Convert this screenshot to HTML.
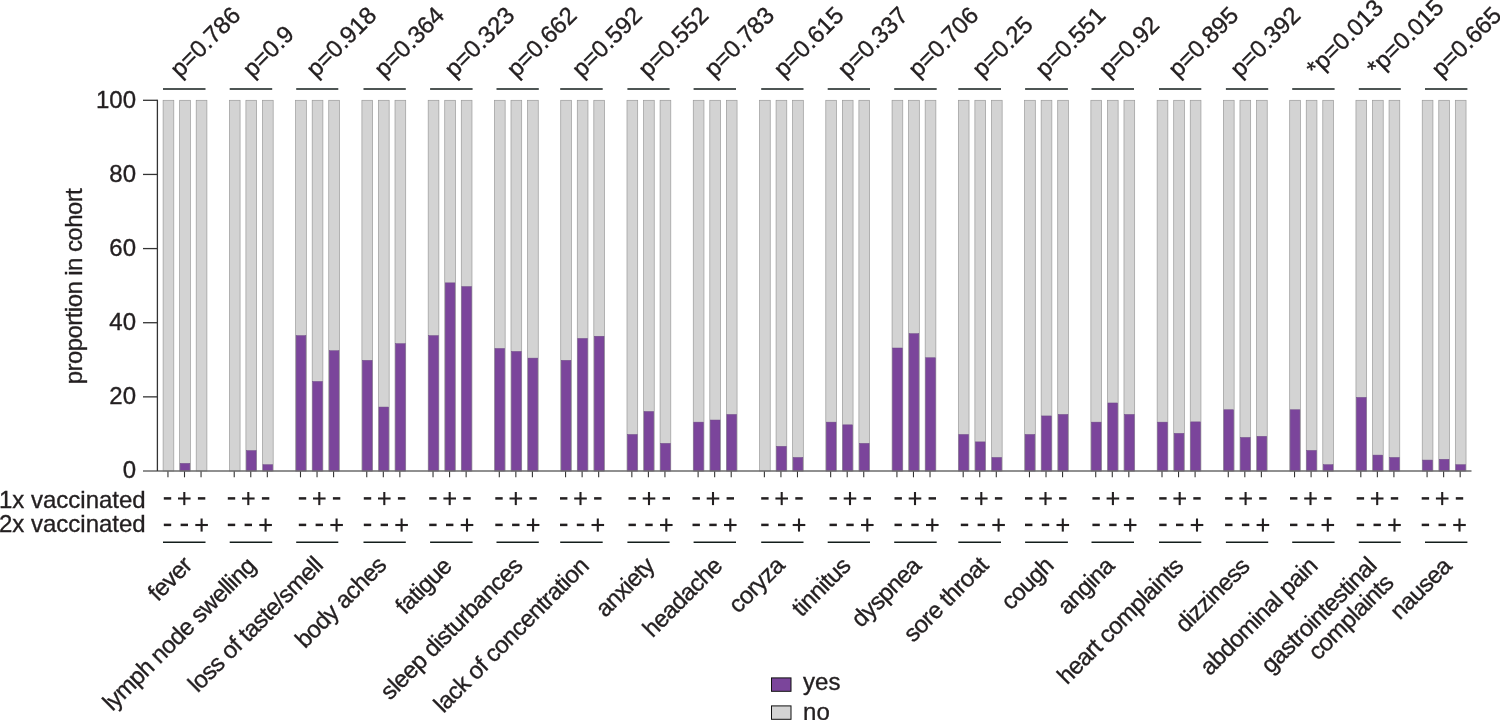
<!DOCTYPE html><html><head><meta charset="utf-8"><title>chart</title>
<style>html,body{margin:0;padding:0;background:#fff;}svg{display:block;will-change:transform;}text{font-family:"Liberation Sans",sans-serif;fill:#231F20;stroke:#231F20;stroke-width:0.35px;}</style>
</head><body>
<svg width="1500" height="720" viewBox="0 0 1500 720">
<rect width="1500" height="720" fill="#fff"/>
<rect x="163.10" y="100.30" width="10.70" height="370.70" fill="#D3D3D3" stroke="#9a9a9a" stroke-width="0.7"/>
<line x1="167.95" y1="471.00" x2="167.95" y2="477.30" stroke="#333" stroke-width="1.1"/>
<rect x="179.65" y="100.30" width="10.70" height="370.70" fill="#D3D3D3" stroke="#9a9a9a" stroke-width="0.7"/>
<rect x="180.15" y="463.39" width="9.70" height="7.61" fill="#7B459B" stroke="#6e4a86" stroke-width="0.5"/>
<line x1="184.50" y1="471.00" x2="184.50" y2="477.30" stroke="#333" stroke-width="1.1"/>
<rect x="196.20" y="100.30" width="10.70" height="370.70" fill="#D3D3D3" stroke="#9a9a9a" stroke-width="0.7"/>
<line x1="201.05" y1="471.00" x2="201.05" y2="477.30" stroke="#333" stroke-width="1.1"/>
<rect x="229.37" y="100.30" width="10.70" height="370.70" fill="#D3D3D3" stroke="#9a9a9a" stroke-width="0.7"/>
<line x1="234.22" y1="471.00" x2="234.22" y2="477.30" stroke="#333" stroke-width="1.1"/>
<rect x="245.92" y="100.30" width="10.70" height="370.70" fill="#D3D3D3" stroke="#9a9a9a" stroke-width="0.7"/>
<rect x="246.42" y="450.57" width="9.70" height="20.43" fill="#7B459B" stroke="#6e4a86" stroke-width="0.5"/>
<line x1="250.77" y1="471.00" x2="250.77" y2="477.30" stroke="#333" stroke-width="1.1"/>
<rect x="262.47" y="100.30" width="10.70" height="370.70" fill="#D3D3D3" stroke="#9a9a9a" stroke-width="0.7"/>
<rect x="262.97" y="464.69" width="9.70" height="6.31" fill="#7B459B" stroke="#6e4a86" stroke-width="0.5"/>
<line x1="267.32" y1="471.00" x2="267.32" y2="477.30" stroke="#333" stroke-width="1.1"/>
<rect x="295.64" y="100.30" width="10.70" height="370.70" fill="#D3D3D3" stroke="#9a9a9a" stroke-width="0.7"/>
<rect x="296.14" y="335.61" width="9.70" height="135.39" fill="#7B459B" stroke="#6e4a86" stroke-width="0.5"/>
<line x1="300.49" y1="471.00" x2="300.49" y2="477.30" stroke="#333" stroke-width="1.1"/>
<rect x="312.19" y="100.30" width="10.70" height="370.70" fill="#D3D3D3" stroke="#9a9a9a" stroke-width="0.7"/>
<rect x="312.69" y="381.47" width="9.70" height="89.53" fill="#7B459B" stroke="#6e4a86" stroke-width="0.5"/>
<line x1="317.04" y1="471.00" x2="317.04" y2="477.30" stroke="#333" stroke-width="1.1"/>
<rect x="328.74" y="100.30" width="10.70" height="370.70" fill="#D3D3D3" stroke="#9a9a9a" stroke-width="0.7"/>
<rect x="329.24" y="350.70" width="9.70" height="120.30" fill="#7B459B" stroke="#6e4a86" stroke-width="0.5"/>
<line x1="333.59" y1="471.00" x2="333.59" y2="477.30" stroke="#333" stroke-width="1.1"/>
<rect x="361.91" y="100.30" width="10.70" height="370.70" fill="#D3D3D3" stroke="#9a9a9a" stroke-width="0.7"/>
<rect x="362.41" y="360.34" width="9.70" height="110.66" fill="#7B459B" stroke="#6e4a86" stroke-width="0.5"/>
<line x1="366.76" y1="471.00" x2="366.76" y2="477.30" stroke="#333" stroke-width="1.1"/>
<rect x="378.46" y="100.30" width="10.70" height="370.70" fill="#D3D3D3" stroke="#9a9a9a" stroke-width="0.7"/>
<rect x="378.96" y="407.05" width="9.70" height="63.95" fill="#7B459B" stroke="#6e4a86" stroke-width="0.5"/>
<line x1="383.31" y1="471.00" x2="383.31" y2="477.30" stroke="#333" stroke-width="1.1"/>
<rect x="395.01" y="100.30" width="10.70" height="370.70" fill="#D3D3D3" stroke="#9a9a9a" stroke-width="0.7"/>
<rect x="395.51" y="343.66" width="9.70" height="127.34" fill="#7B459B" stroke="#6e4a86" stroke-width="0.5"/>
<line x1="399.86" y1="471.00" x2="399.86" y2="477.30" stroke="#333" stroke-width="1.1"/>
<rect x="428.18" y="100.30" width="10.70" height="370.70" fill="#D3D3D3" stroke="#9a9a9a" stroke-width="0.7"/>
<rect x="428.68" y="335.61" width="9.70" height="135.39" fill="#7B459B" stroke="#6e4a86" stroke-width="0.5"/>
<line x1="433.03" y1="471.00" x2="433.03" y2="477.30" stroke="#333" stroke-width="1.1"/>
<rect x="444.73" y="100.30" width="10.70" height="370.70" fill="#D3D3D3" stroke="#9a9a9a" stroke-width="0.7"/>
<rect x="445.23" y="282.86" width="9.70" height="188.14" fill="#7B459B" stroke="#6e4a86" stroke-width="0.5"/>
<line x1="449.58" y1="471.00" x2="449.58" y2="477.30" stroke="#333" stroke-width="1.1"/>
<rect x="461.28" y="100.30" width="10.70" height="370.70" fill="#D3D3D3" stroke="#9a9a9a" stroke-width="0.7"/>
<rect x="461.78" y="286.57" width="9.70" height="184.43" fill="#7B459B" stroke="#6e4a86" stroke-width="0.5"/>
<line x1="466.13" y1="471.00" x2="466.13" y2="477.30" stroke="#333" stroke-width="1.1"/>
<rect x="494.45" y="100.30" width="10.70" height="370.70" fill="#D3D3D3" stroke="#9a9a9a" stroke-width="0.7"/>
<rect x="494.95" y="348.48" width="9.70" height="122.52" fill="#7B459B" stroke="#6e4a86" stroke-width="0.5"/>
<line x1="499.30" y1="471.00" x2="499.30" y2="477.30" stroke="#333" stroke-width="1.1"/>
<rect x="511.00" y="100.30" width="10.70" height="370.70" fill="#D3D3D3" stroke="#9a9a9a" stroke-width="0.7"/>
<rect x="511.50" y="351.44" width="9.70" height="119.56" fill="#7B459B" stroke="#6e4a86" stroke-width="0.5"/>
<line x1="515.85" y1="471.00" x2="515.85" y2="477.30" stroke="#333" stroke-width="1.1"/>
<rect x="527.55" y="100.30" width="10.70" height="370.70" fill="#D3D3D3" stroke="#9a9a9a" stroke-width="0.7"/>
<rect x="528.05" y="358.12" width="9.70" height="112.88" fill="#7B459B" stroke="#6e4a86" stroke-width="0.5"/>
<line x1="532.40" y1="471.00" x2="532.40" y2="477.30" stroke="#333" stroke-width="1.1"/>
<rect x="560.72" y="100.30" width="10.70" height="370.70" fill="#D3D3D3" stroke="#9a9a9a" stroke-width="0.7"/>
<rect x="561.22" y="360.34" width="9.70" height="110.66" fill="#7B459B" stroke="#6e4a86" stroke-width="0.5"/>
<line x1="565.57" y1="471.00" x2="565.57" y2="477.30" stroke="#333" stroke-width="1.1"/>
<rect x="577.27" y="100.30" width="10.70" height="370.70" fill="#D3D3D3" stroke="#9a9a9a" stroke-width="0.7"/>
<rect x="577.77" y="338.47" width="9.70" height="132.53" fill="#7B459B" stroke="#6e4a86" stroke-width="0.5"/>
<line x1="582.12" y1="471.00" x2="582.12" y2="477.30" stroke="#333" stroke-width="1.1"/>
<rect x="593.82" y="100.30" width="10.70" height="370.70" fill="#D3D3D3" stroke="#9a9a9a" stroke-width="0.7"/>
<rect x="594.32" y="336.24" width="9.70" height="134.76" fill="#7B459B" stroke="#6e4a86" stroke-width="0.5"/>
<line x1="598.67" y1="471.00" x2="598.67" y2="477.30" stroke="#333" stroke-width="1.1"/>
<rect x="626.99" y="100.30" width="10.70" height="370.70" fill="#D3D3D3" stroke="#9a9a9a" stroke-width="0.7"/>
<rect x="627.49" y="434.48" width="9.70" height="36.52" fill="#7B459B" stroke="#6e4a86" stroke-width="0.5"/>
<line x1="631.84" y1="471.00" x2="631.84" y2="477.30" stroke="#333" stroke-width="1.1"/>
<rect x="643.54" y="100.30" width="10.70" height="370.70" fill="#D3D3D3" stroke="#9a9a9a" stroke-width="0.7"/>
<rect x="644.04" y="411.50" width="9.70" height="59.50" fill="#7B459B" stroke="#6e4a86" stroke-width="0.5"/>
<line x1="648.39" y1="471.00" x2="648.39" y2="477.30" stroke="#333" stroke-width="1.1"/>
<rect x="660.09" y="100.30" width="10.70" height="370.70" fill="#D3D3D3" stroke="#9a9a9a" stroke-width="0.7"/>
<rect x="660.59" y="443.38" width="9.70" height="27.62" fill="#7B459B" stroke="#6e4a86" stroke-width="0.5"/>
<line x1="664.94" y1="471.00" x2="664.94" y2="477.30" stroke="#333" stroke-width="1.1"/>
<rect x="693.26" y="100.30" width="10.70" height="370.70" fill="#D3D3D3" stroke="#9a9a9a" stroke-width="0.7"/>
<rect x="693.76" y="422.14" width="9.70" height="48.86" fill="#7B459B" stroke="#6e4a86" stroke-width="0.5"/>
<line x1="698.11" y1="471.00" x2="698.11" y2="477.30" stroke="#333" stroke-width="1.1"/>
<rect x="709.81" y="100.30" width="10.70" height="370.70" fill="#D3D3D3" stroke="#9a9a9a" stroke-width="0.7"/>
<rect x="710.31" y="420.02" width="9.70" height="50.98" fill="#7B459B" stroke="#6e4a86" stroke-width="0.5"/>
<line x1="714.66" y1="471.00" x2="714.66" y2="477.30" stroke="#333" stroke-width="1.1"/>
<rect x="726.36" y="100.30" width="10.70" height="370.70" fill="#D3D3D3" stroke="#9a9a9a" stroke-width="0.7"/>
<rect x="726.86" y="414.46" width="9.70" height="56.54" fill="#7B459B" stroke="#6e4a86" stroke-width="0.5"/>
<line x1="731.21" y1="471.00" x2="731.21" y2="477.30" stroke="#333" stroke-width="1.1"/>
<rect x="759.53" y="100.30" width="10.70" height="370.70" fill="#D3D3D3" stroke="#9a9a9a" stroke-width="0.7"/>
<line x1="764.38" y1="471.00" x2="764.38" y2="477.30" stroke="#333" stroke-width="1.1"/>
<rect x="776.08" y="100.30" width="10.70" height="370.70" fill="#D3D3D3" stroke="#9a9a9a" stroke-width="0.7"/>
<rect x="776.58" y="446.34" width="9.70" height="24.66" fill="#7B459B" stroke="#6e4a86" stroke-width="0.5"/>
<line x1="780.93" y1="471.00" x2="780.93" y2="477.30" stroke="#333" stroke-width="1.1"/>
<rect x="792.63" y="100.30" width="10.70" height="370.70" fill="#D3D3D3" stroke="#9a9a9a" stroke-width="0.7"/>
<rect x="793.13" y="457.46" width="9.70" height="13.54" fill="#7B459B" stroke="#6e4a86" stroke-width="0.5"/>
<line x1="797.48" y1="471.00" x2="797.48" y2="477.30" stroke="#333" stroke-width="1.1"/>
<rect x="825.80" y="100.30" width="10.70" height="370.70" fill="#D3D3D3" stroke="#9a9a9a" stroke-width="0.7"/>
<rect x="826.30" y="422.14" width="9.70" height="48.86" fill="#7B459B" stroke="#6e4a86" stroke-width="0.5"/>
<line x1="830.65" y1="471.00" x2="830.65" y2="477.30" stroke="#333" stroke-width="1.1"/>
<rect x="842.35" y="100.30" width="10.70" height="370.70" fill="#D3D3D3" stroke="#9a9a9a" stroke-width="0.7"/>
<rect x="842.85" y="424.84" width="9.70" height="46.16" fill="#7B459B" stroke="#6e4a86" stroke-width="0.5"/>
<line x1="847.20" y1="471.00" x2="847.20" y2="477.30" stroke="#333" stroke-width="1.1"/>
<rect x="858.90" y="100.30" width="10.70" height="370.70" fill="#D3D3D3" stroke="#9a9a9a" stroke-width="0.7"/>
<rect x="859.40" y="443.38" width="9.70" height="27.62" fill="#7B459B" stroke="#6e4a86" stroke-width="0.5"/>
<line x1="863.75" y1="471.00" x2="863.75" y2="477.30" stroke="#333" stroke-width="1.1"/>
<rect x="892.07" y="100.30" width="10.70" height="370.70" fill="#D3D3D3" stroke="#9a9a9a" stroke-width="0.7"/>
<rect x="892.57" y="348.00" width="9.70" height="123.00" fill="#7B459B" stroke="#6e4a86" stroke-width="0.5"/>
<line x1="896.92" y1="471.00" x2="896.92" y2="477.30" stroke="#333" stroke-width="1.1"/>
<rect x="908.62" y="100.30" width="10.70" height="370.70" fill="#D3D3D3" stroke="#9a9a9a" stroke-width="0.7"/>
<rect x="909.12" y="333.65" width="9.70" height="137.35" fill="#7B459B" stroke="#6e4a86" stroke-width="0.5"/>
<line x1="913.47" y1="471.00" x2="913.47" y2="477.30" stroke="#333" stroke-width="1.1"/>
<rect x="925.17" y="100.30" width="10.70" height="370.70" fill="#D3D3D3" stroke="#9a9a9a" stroke-width="0.7"/>
<rect x="925.67" y="357.75" width="9.70" height="113.25" fill="#7B459B" stroke="#6e4a86" stroke-width="0.5"/>
<line x1="930.02" y1="471.00" x2="930.02" y2="477.30" stroke="#333" stroke-width="1.1"/>
<rect x="958.34" y="100.30" width="10.70" height="370.70" fill="#D3D3D3" stroke="#9a9a9a" stroke-width="0.7"/>
<rect x="958.84" y="434.48" width="9.70" height="36.52" fill="#7B459B" stroke="#6e4a86" stroke-width="0.5"/>
<line x1="963.19" y1="471.00" x2="963.19" y2="477.30" stroke="#333" stroke-width="1.1"/>
<rect x="974.89" y="100.30" width="10.70" height="370.70" fill="#D3D3D3" stroke="#9a9a9a" stroke-width="0.7"/>
<rect x="975.39" y="441.89" width="9.70" height="29.11" fill="#7B459B" stroke="#6e4a86" stroke-width="0.5"/>
<line x1="979.74" y1="471.00" x2="979.74" y2="477.30" stroke="#333" stroke-width="1.1"/>
<rect x="991.44" y="100.30" width="10.70" height="370.70" fill="#D3D3D3" stroke="#9a9a9a" stroke-width="0.7"/>
<rect x="991.94" y="457.46" width="9.70" height="13.54" fill="#7B459B" stroke="#6e4a86" stroke-width="0.5"/>
<line x1="996.29" y1="471.00" x2="996.29" y2="477.30" stroke="#333" stroke-width="1.1"/>
<rect x="1024.61" y="100.30" width="10.70" height="370.70" fill="#D3D3D3" stroke="#9a9a9a" stroke-width="0.7"/>
<rect x="1025.11" y="434.48" width="9.70" height="36.52" fill="#7B459B" stroke="#6e4a86" stroke-width="0.5"/>
<line x1="1029.46" y1="471.00" x2="1029.46" y2="477.30" stroke="#333" stroke-width="1.1"/>
<rect x="1041.16" y="100.30" width="10.70" height="370.70" fill="#D3D3D3" stroke="#9a9a9a" stroke-width="0.7"/>
<rect x="1041.66" y="415.94" width="9.70" height="55.05" fill="#7B459B" stroke="#6e4a86" stroke-width="0.5"/>
<line x1="1046.01" y1="471.00" x2="1046.01" y2="477.30" stroke="#333" stroke-width="1.1"/>
<rect x="1057.71" y="100.30" width="10.70" height="370.70" fill="#D3D3D3" stroke="#9a9a9a" stroke-width="0.7"/>
<rect x="1058.21" y="414.46" width="9.70" height="56.54" fill="#7B459B" stroke="#6e4a86" stroke-width="0.5"/>
<line x1="1062.56" y1="471.00" x2="1062.56" y2="477.30" stroke="#333" stroke-width="1.1"/>
<rect x="1090.88" y="100.30" width="10.70" height="370.70" fill="#D3D3D3" stroke="#9a9a9a" stroke-width="0.7"/>
<rect x="1091.38" y="422.14" width="9.70" height="48.86" fill="#7B459B" stroke="#6e4a86" stroke-width="0.5"/>
<line x1="1095.73" y1="471.00" x2="1095.73" y2="477.30" stroke="#333" stroke-width="1.1"/>
<rect x="1107.43" y="100.30" width="10.70" height="370.70" fill="#D3D3D3" stroke="#9a9a9a" stroke-width="0.7"/>
<rect x="1107.93" y="402.97" width="9.70" height="68.03" fill="#7B459B" stroke="#6e4a86" stroke-width="0.5"/>
<line x1="1112.28" y1="471.00" x2="1112.28" y2="477.30" stroke="#333" stroke-width="1.1"/>
<rect x="1123.98" y="100.30" width="10.70" height="370.70" fill="#D3D3D3" stroke="#9a9a9a" stroke-width="0.7"/>
<rect x="1124.48" y="414.46" width="9.70" height="56.54" fill="#7B459B" stroke="#6e4a86" stroke-width="0.5"/>
<line x1="1128.83" y1="471.00" x2="1128.83" y2="477.30" stroke="#333" stroke-width="1.1"/>
<rect x="1157.15" y="100.30" width="10.70" height="370.70" fill="#D3D3D3" stroke="#9a9a9a" stroke-width="0.7"/>
<rect x="1157.65" y="422.14" width="9.70" height="48.86" fill="#7B459B" stroke="#6e4a86" stroke-width="0.5"/>
<line x1="1162.00" y1="471.00" x2="1162.00" y2="477.30" stroke="#333" stroke-width="1.1"/>
<rect x="1173.70" y="100.30" width="10.70" height="370.70" fill="#D3D3D3" stroke="#9a9a9a" stroke-width="0.7"/>
<rect x="1174.20" y="433.37" width="9.70" height="37.63" fill="#7B459B" stroke="#6e4a86" stroke-width="0.5"/>
<line x1="1178.55" y1="471.00" x2="1178.55" y2="477.30" stroke="#333" stroke-width="1.1"/>
<rect x="1190.25" y="100.30" width="10.70" height="370.70" fill="#D3D3D3" stroke="#9a9a9a" stroke-width="0.7"/>
<rect x="1190.75" y="421.88" width="9.70" height="49.12" fill="#7B459B" stroke="#6e4a86" stroke-width="0.5"/>
<line x1="1195.10" y1="471.00" x2="1195.10" y2="477.30" stroke="#333" stroke-width="1.1"/>
<rect x="1223.42" y="100.30" width="10.70" height="370.70" fill="#D3D3D3" stroke="#9a9a9a" stroke-width="0.7"/>
<rect x="1223.92" y="409.75" width="9.70" height="61.25" fill="#7B459B" stroke="#6e4a86" stroke-width="0.5"/>
<line x1="1228.27" y1="471.00" x2="1228.27" y2="477.30" stroke="#333" stroke-width="1.1"/>
<rect x="1239.97" y="100.30" width="10.70" height="370.70" fill="#D3D3D3" stroke="#9a9a9a" stroke-width="0.7"/>
<rect x="1240.47" y="437.45" width="9.70" height="33.55" fill="#7B459B" stroke="#6e4a86" stroke-width="0.5"/>
<line x1="1244.82" y1="471.00" x2="1244.82" y2="477.30" stroke="#333" stroke-width="1.1"/>
<rect x="1256.52" y="100.30" width="10.70" height="370.70" fill="#D3D3D3" stroke="#9a9a9a" stroke-width="0.7"/>
<rect x="1257.02" y="436.33" width="9.70" height="34.67" fill="#7B459B" stroke="#6e4a86" stroke-width="0.5"/>
<line x1="1261.37" y1="471.00" x2="1261.37" y2="477.30" stroke="#333" stroke-width="1.1"/>
<rect x="1289.69" y="100.30" width="10.70" height="370.70" fill="#D3D3D3" stroke="#9a9a9a" stroke-width="0.7"/>
<rect x="1290.19" y="409.75" width="9.70" height="61.25" fill="#7B459B" stroke="#6e4a86" stroke-width="0.5"/>
<line x1="1294.54" y1="471.00" x2="1294.54" y2="477.30" stroke="#333" stroke-width="1.1"/>
<rect x="1306.24" y="100.30" width="10.70" height="370.70" fill="#D3D3D3" stroke="#9a9a9a" stroke-width="0.7"/>
<rect x="1306.74" y="450.42" width="9.70" height="20.58" fill="#7B459B" stroke="#6e4a86" stroke-width="0.5"/>
<line x1="1311.09" y1="471.00" x2="1311.09" y2="477.30" stroke="#333" stroke-width="1.1"/>
<rect x="1322.79" y="100.30" width="10.70" height="370.70" fill="#D3D3D3" stroke="#9a9a9a" stroke-width="0.7"/>
<rect x="1323.29" y="464.69" width="9.70" height="6.31" fill="#7B459B" stroke="#6e4a86" stroke-width="0.5"/>
<line x1="1327.64" y1="471.00" x2="1327.64" y2="477.30" stroke="#333" stroke-width="1.1"/>
<rect x="1355.96" y="100.30" width="10.70" height="370.70" fill="#D3D3D3" stroke="#9a9a9a" stroke-width="0.7"/>
<rect x="1356.46" y="397.41" width="9.70" height="73.59" fill="#7B459B" stroke="#6e4a86" stroke-width="0.5"/>
<line x1="1360.81" y1="471.00" x2="1360.81" y2="477.30" stroke="#333" stroke-width="1.1"/>
<rect x="1372.51" y="100.30" width="10.70" height="370.70" fill="#D3D3D3" stroke="#9a9a9a" stroke-width="0.7"/>
<rect x="1373.01" y="455.09" width="9.70" height="15.91" fill="#7B459B" stroke="#6e4a86" stroke-width="0.5"/>
<line x1="1377.36" y1="471.00" x2="1377.36" y2="477.30" stroke="#333" stroke-width="1.1"/>
<rect x="1389.06" y="100.30" width="10.70" height="370.70" fill="#D3D3D3" stroke="#9a9a9a" stroke-width="0.7"/>
<rect x="1389.56" y="457.46" width="9.70" height="13.54" fill="#7B459B" stroke="#6e4a86" stroke-width="0.5"/>
<line x1="1393.91" y1="471.00" x2="1393.91" y2="477.30" stroke="#333" stroke-width="1.1"/>
<rect x="1422.23" y="100.30" width="10.70" height="370.70" fill="#D3D3D3" stroke="#9a9a9a" stroke-width="0.7"/>
<rect x="1422.73" y="460.06" width="9.70" height="10.94" fill="#7B459B" stroke="#6e4a86" stroke-width="0.5"/>
<line x1="1427.08" y1="471.00" x2="1427.08" y2="477.30" stroke="#333" stroke-width="1.1"/>
<rect x="1438.78" y="100.30" width="10.70" height="370.70" fill="#D3D3D3" stroke="#9a9a9a" stroke-width="0.7"/>
<rect x="1439.28" y="459.32" width="9.70" height="11.68" fill="#7B459B" stroke="#6e4a86" stroke-width="0.5"/>
<line x1="1443.63" y1="471.00" x2="1443.63" y2="477.30" stroke="#333" stroke-width="1.1"/>
<rect x="1455.33" y="100.30" width="10.70" height="370.70" fill="#D3D3D3" stroke="#9a9a9a" stroke-width="0.7"/>
<rect x="1455.83" y="464.69" width="9.70" height="6.31" fill="#7B459B" stroke="#6e4a86" stroke-width="0.5"/>
<line x1="1460.18" y1="471.00" x2="1460.18" y2="477.30" stroke="#333" stroke-width="1.1"/>
<line x1="143" y1="471.00" x2="1471.5" y2="471.00" stroke="#6b6b6b" stroke-width="1.6"/>
<line x1="157.40" y1="99.70" x2="157.40" y2="471.00" stroke="#333" stroke-width="1.3"/>
<text x="136" y="478.40" font-size="24" text-anchor="end">0</text>
<line x1="143" y1="396.86" x2="157.40" y2="396.86" stroke="#333" stroke-width="1.3"/>
<text x="136" y="404.26" font-size="24" text-anchor="end">20</text>
<line x1="143" y1="322.72" x2="157.40" y2="322.72" stroke="#333" stroke-width="1.3"/>
<text x="136" y="330.12" font-size="24" text-anchor="end">40</text>
<line x1="143" y1="248.58" x2="157.40" y2="248.58" stroke="#333" stroke-width="1.3"/>
<text x="136" y="255.98" font-size="24" text-anchor="end">60</text>
<line x1="143" y1="174.44" x2="157.40" y2="174.44" stroke="#333" stroke-width="1.3"/>
<text x="136" y="181.84" font-size="24" text-anchor="end">80</text>
<line x1="143" y1="100.30" x2="157.40" y2="100.30" stroke="#333" stroke-width="1.3"/>
<text x="136" y="107.70" font-size="24" text-anchor="end">100</text>
<text transform="translate(82.3,286.5) rotate(-90)" font-size="24" letter-spacing="-0.57" text-anchor="middle">proportion in cohort</text>
<text x="145.7" y="507.80" font-size="24" text-anchor="end">1x vaccinated</text>
<text x="145.7" y="531.70" font-size="24" text-anchor="end">2x vaccinated</text>
<line x1="163.00" y1="89.05" x2="205.50" y2="89.05" stroke="#131d1b" stroke-width="1.55"/>
<line x1="163.00" y1="542.2" x2="205.50" y2="542.2" stroke="#131d1b" stroke-width="1.55"/>
<line x1="163.80" y1="498.40" x2="171.20" y2="498.40" stroke="#231F20" stroke-width="2.5"/>
<line x1="178.00" y1="498.50" x2="190.60" y2="498.50" stroke="#231F20" stroke-width="2.1"/><line x1="184.30" y1="492.00" x2="184.30" y2="505.10" stroke="#231F20" stroke-width="2.1"/>
<line x1="197.90" y1="498.40" x2="205.30" y2="498.40" stroke="#231F20" stroke-width="2.5"/>
<line x1="163.80" y1="524.90" x2="171.20" y2="524.90" stroke="#231F20" stroke-width="2.5"/>
<line x1="180.60" y1="524.90" x2="188.00" y2="524.90" stroke="#231F20" stroke-width="2.5"/>
<line x1="195.30" y1="525.00" x2="207.90" y2="525.00" stroke="#231F20" stroke-width="2.1"/><line x1="201.60" y1="518.50" x2="201.60" y2="531.60" stroke="#231F20" stroke-width="2.1"/>
<text transform="translate(180.10,78.60) rotate(-45)" font-size="24">p=0.786</text>
<text transform="translate(193.20,566.80) rotate(-45)" font-size="24" text-anchor="end" letter-spacing="-0.62">fever</text>
<line x1="229.70" y1="89.05" x2="272.20" y2="89.05" stroke="#131d1b" stroke-width="1.55"/>
<line x1="229.70" y1="542.2" x2="272.20" y2="542.2" stroke="#131d1b" stroke-width="1.55"/>
<line x1="227.80" y1="498.40" x2="235.20" y2="498.40" stroke="#231F20" stroke-width="2.5"/>
<line x1="242.00" y1="498.50" x2="254.60" y2="498.50" stroke="#231F20" stroke-width="2.1"/><line x1="248.30" y1="492.00" x2="248.30" y2="505.10" stroke="#231F20" stroke-width="2.1"/>
<line x1="261.90" y1="498.40" x2="269.30" y2="498.40" stroke="#231F20" stroke-width="2.5"/>
<line x1="227.80" y1="524.90" x2="235.20" y2="524.90" stroke="#231F20" stroke-width="2.5"/>
<line x1="244.60" y1="524.90" x2="252.00" y2="524.90" stroke="#231F20" stroke-width="2.5"/>
<line x1="259.30" y1="525.00" x2="271.90" y2="525.00" stroke="#231F20" stroke-width="2.1"/><line x1="265.60" y1="518.50" x2="265.60" y2="531.60" stroke="#231F20" stroke-width="2.1"/>
<text transform="translate(252.60,78.60) rotate(-45)" font-size="24">p=0.9</text>
<text transform="translate(256.90,567.50) rotate(-45)" font-size="24" text-anchor="end" letter-spacing="-0.62">lymph node swelling</text>
<line x1="296.20" y1="89.05" x2="338.30" y2="89.05" stroke="#131d1b" stroke-width="1.55"/>
<line x1="296.20" y1="542.2" x2="338.30" y2="542.2" stroke="#131d1b" stroke-width="1.55"/>
<line x1="298.80" y1="498.40" x2="306.20" y2="498.40" stroke="#231F20" stroke-width="2.5"/>
<line x1="313.00" y1="498.50" x2="325.60" y2="498.50" stroke="#231F20" stroke-width="2.1"/><line x1="319.30" y1="492.00" x2="319.30" y2="505.10" stroke="#231F20" stroke-width="2.1"/>
<line x1="332.90" y1="498.40" x2="340.30" y2="498.40" stroke="#231F20" stroke-width="2.5"/>
<line x1="298.80" y1="524.90" x2="306.20" y2="524.90" stroke="#231F20" stroke-width="2.5"/>
<line x1="315.60" y1="524.90" x2="323.00" y2="524.90" stroke="#231F20" stroke-width="2.5"/>
<line x1="330.30" y1="525.00" x2="342.90" y2="525.00" stroke="#231F20" stroke-width="2.1"/><line x1="336.60" y1="518.50" x2="336.60" y2="531.60" stroke="#231F20" stroke-width="2.1"/>
<text transform="translate(316.10,78.60) rotate(-45)" font-size="24">p=0.918</text>
<text transform="translate(324.20,567.00) rotate(-45)" font-size="24" text-anchor="end" letter-spacing="-0.62">loss of taste/smell</text>
<line x1="363.50" y1="89.05" x2="405.80" y2="89.05" stroke="#131d1b" stroke-width="1.55"/>
<line x1="363.50" y1="542.2" x2="405.80" y2="542.2" stroke="#131d1b" stroke-width="1.55"/>
<line x1="363.80" y1="498.40" x2="371.20" y2="498.40" stroke="#231F20" stroke-width="2.5"/>
<line x1="378.00" y1="498.50" x2="390.60" y2="498.50" stroke="#231F20" stroke-width="2.1"/><line x1="384.30" y1="492.00" x2="384.30" y2="505.10" stroke="#231F20" stroke-width="2.1"/>
<line x1="397.90" y1="498.40" x2="405.30" y2="498.40" stroke="#231F20" stroke-width="2.5"/>
<line x1="363.80" y1="524.90" x2="371.20" y2="524.90" stroke="#231F20" stroke-width="2.5"/>
<line x1="380.60" y1="524.90" x2="388.00" y2="524.90" stroke="#231F20" stroke-width="2.5"/>
<line x1="395.30" y1="525.00" x2="407.90" y2="525.00" stroke="#231F20" stroke-width="2.1"/><line x1="401.60" y1="518.50" x2="401.60" y2="531.60" stroke="#231F20" stroke-width="2.1"/>
<text transform="translate(383.90,78.60) rotate(-45)" font-size="24">p=0.364</text>
<text transform="translate(387.50,566.80) rotate(-45)" font-size="24" text-anchor="end" letter-spacing="-0.62">body aches</text>
<line x1="430.10" y1="89.05" x2="472.60" y2="89.05" stroke="#131d1b" stroke-width="1.55"/>
<line x1="430.10" y1="542.2" x2="472.60" y2="542.2" stroke="#131d1b" stroke-width="1.55"/>
<line x1="429.20" y1="498.40" x2="436.60" y2="498.40" stroke="#231F20" stroke-width="2.5"/>
<line x1="443.40" y1="498.50" x2="456.00" y2="498.50" stroke="#231F20" stroke-width="2.1"/><line x1="449.70" y1="492.00" x2="449.70" y2="505.10" stroke="#231F20" stroke-width="2.1"/>
<line x1="463.30" y1="498.40" x2="470.70" y2="498.40" stroke="#231F20" stroke-width="2.5"/>
<line x1="429.20" y1="524.90" x2="436.60" y2="524.90" stroke="#231F20" stroke-width="2.5"/>
<line x1="446.00" y1="524.90" x2="453.40" y2="524.90" stroke="#231F20" stroke-width="2.5"/>
<line x1="460.70" y1="525.00" x2="473.30" y2="525.00" stroke="#231F20" stroke-width="2.1"/><line x1="467.00" y1="518.50" x2="467.00" y2="531.60" stroke="#231F20" stroke-width="2.1"/>
<text transform="translate(454.20,78.60) rotate(-45)" font-size="24">p=0.323</text>
<text transform="translate(453.10,567.70) rotate(-45)" font-size="24" text-anchor="end" letter-spacing="-0.62">fatigue</text>
<line x1="496.50" y1="89.05" x2="538.80" y2="89.05" stroke="#131d1b" stroke-width="1.55"/>
<line x1="496.50" y1="542.2" x2="538.80" y2="542.2" stroke="#131d1b" stroke-width="1.55"/>
<line x1="495.30" y1="498.40" x2="502.70" y2="498.40" stroke="#231F20" stroke-width="2.5"/>
<line x1="509.50" y1="498.50" x2="522.10" y2="498.50" stroke="#231F20" stroke-width="2.1"/><line x1="515.80" y1="492.00" x2="515.80" y2="505.10" stroke="#231F20" stroke-width="2.1"/>
<line x1="529.40" y1="498.40" x2="536.80" y2="498.40" stroke="#231F20" stroke-width="2.5"/>
<line x1="495.30" y1="524.90" x2="502.70" y2="524.90" stroke="#231F20" stroke-width="2.5"/>
<line x1="512.10" y1="524.90" x2="519.50" y2="524.90" stroke="#231F20" stroke-width="2.5"/>
<line x1="526.80" y1="525.00" x2="539.40" y2="525.00" stroke="#231F20" stroke-width="2.1"/><line x1="533.10" y1="518.50" x2="533.10" y2="531.60" stroke="#231F20" stroke-width="2.1"/>
<text transform="translate(516.40,78.60) rotate(-45)" font-size="24">p=0.662</text>
<text transform="translate(523.70,567.50) rotate(-45)" font-size="24" text-anchor="end" letter-spacing="-0.62">sleep disturbances</text>
<line x1="560.20" y1="89.05" x2="602.70" y2="89.05" stroke="#131d1b" stroke-width="1.55"/>
<line x1="560.20" y1="542.2" x2="602.70" y2="542.2" stroke="#131d1b" stroke-width="1.55"/>
<line x1="560.00" y1="498.40" x2="567.40" y2="498.40" stroke="#231F20" stroke-width="2.5"/>
<line x1="574.20" y1="498.50" x2="586.80" y2="498.50" stroke="#231F20" stroke-width="2.1"/><line x1="580.50" y1="492.00" x2="580.50" y2="505.10" stroke="#231F20" stroke-width="2.1"/>
<line x1="594.10" y1="498.40" x2="601.50" y2="498.40" stroke="#231F20" stroke-width="2.5"/>
<line x1="560.00" y1="524.90" x2="567.40" y2="524.90" stroke="#231F20" stroke-width="2.5"/>
<line x1="576.80" y1="524.90" x2="584.20" y2="524.90" stroke="#231F20" stroke-width="2.5"/>
<line x1="591.50" y1="525.00" x2="604.10" y2="525.00" stroke="#231F20" stroke-width="2.1"/><line x1="597.80" y1="518.50" x2="597.80" y2="531.60" stroke="#231F20" stroke-width="2.1"/>
<text transform="translate(581.70,78.60) rotate(-45)" font-size="24">p=0.592</text>
<text transform="translate(589.90,567.50) rotate(-45)" font-size="24" text-anchor="end" letter-spacing="-0.62">lack of concentration</text>
<line x1="627.40" y1="89.05" x2="669.60" y2="89.05" stroke="#131d1b" stroke-width="1.55"/>
<line x1="627.40" y1="542.2" x2="669.60" y2="542.2" stroke="#131d1b" stroke-width="1.55"/>
<line x1="628.50" y1="498.40" x2="635.90" y2="498.40" stroke="#231F20" stroke-width="2.5"/>
<line x1="642.70" y1="498.50" x2="655.30" y2="498.50" stroke="#231F20" stroke-width="2.1"/><line x1="649.00" y1="492.00" x2="649.00" y2="505.10" stroke="#231F20" stroke-width="2.1"/>
<line x1="662.60" y1="498.40" x2="670.00" y2="498.40" stroke="#231F20" stroke-width="2.5"/>
<line x1="628.50" y1="524.90" x2="635.90" y2="524.90" stroke="#231F20" stroke-width="2.5"/>
<line x1="645.30" y1="524.90" x2="652.70" y2="524.90" stroke="#231F20" stroke-width="2.5"/>
<line x1="660.00" y1="525.00" x2="672.60" y2="525.00" stroke="#231F20" stroke-width="2.1"/><line x1="666.30" y1="518.50" x2="666.30" y2="531.60" stroke="#231F20" stroke-width="2.1"/>
<text transform="translate(648.10,78.60) rotate(-45)" font-size="24">p=0.552</text>
<text transform="translate(655.90,567.50) rotate(-45)" font-size="24" text-anchor="end" letter-spacing="-0.62">anxiety</text>
<line x1="693.60" y1="89.05" x2="736.00" y2="89.05" stroke="#131d1b" stroke-width="1.55"/>
<line x1="693.60" y1="542.2" x2="736.00" y2="542.2" stroke="#131d1b" stroke-width="1.55"/>
<line x1="692.50" y1="498.40" x2="699.90" y2="498.40" stroke="#231F20" stroke-width="2.5"/>
<line x1="706.70" y1="498.50" x2="719.30" y2="498.50" stroke="#231F20" stroke-width="2.1"/><line x1="713.00" y1="492.00" x2="713.00" y2="505.10" stroke="#231F20" stroke-width="2.1"/>
<line x1="726.60" y1="498.40" x2="734.00" y2="498.40" stroke="#231F20" stroke-width="2.5"/>
<line x1="692.50" y1="524.90" x2="699.90" y2="524.90" stroke="#231F20" stroke-width="2.5"/>
<line x1="709.30" y1="524.90" x2="716.70" y2="524.90" stroke="#231F20" stroke-width="2.5"/>
<line x1="724.00" y1="525.00" x2="736.60" y2="525.00" stroke="#231F20" stroke-width="2.1"/><line x1="730.30" y1="518.50" x2="730.30" y2="531.60" stroke="#231F20" stroke-width="2.1"/>
<text transform="translate(713.90,78.60) rotate(-45)" font-size="24">p=0.783</text>
<text transform="translate(723.60,567.50) rotate(-45)" font-size="24" text-anchor="end" letter-spacing="-0.62">headache</text>
<line x1="761.20" y1="89.05" x2="803.50" y2="89.05" stroke="#131d1b" stroke-width="1.55"/>
<line x1="761.20" y1="542.2" x2="803.50" y2="542.2" stroke="#131d1b" stroke-width="1.55"/>
<line x1="761.20" y1="498.40" x2="768.60" y2="498.40" stroke="#231F20" stroke-width="2.5"/>
<line x1="775.40" y1="498.50" x2="788.00" y2="498.50" stroke="#231F20" stroke-width="2.1"/><line x1="781.70" y1="492.00" x2="781.70" y2="505.10" stroke="#231F20" stroke-width="2.1"/>
<line x1="795.30" y1="498.40" x2="802.70" y2="498.40" stroke="#231F20" stroke-width="2.5"/>
<line x1="761.20" y1="524.90" x2="768.60" y2="524.90" stroke="#231F20" stroke-width="2.5"/>
<line x1="778.00" y1="524.90" x2="785.40" y2="524.90" stroke="#231F20" stroke-width="2.5"/>
<line x1="792.70" y1="525.00" x2="805.30" y2="525.00" stroke="#231F20" stroke-width="2.1"/><line x1="799.00" y1="518.50" x2="799.00" y2="531.60" stroke="#231F20" stroke-width="2.1"/>
<text transform="translate(783.40,78.60) rotate(-45)" font-size="24">p=0.615</text>
<text transform="translate(785.70,567.00) rotate(-45)" font-size="24" text-anchor="end" letter-spacing="-0.62">coryza</text>
<line x1="827.70" y1="89.05" x2="870.00" y2="89.05" stroke="#131d1b" stroke-width="1.55"/>
<line x1="827.70" y1="542.2" x2="870.00" y2="542.2" stroke="#131d1b" stroke-width="1.55"/>
<line x1="829.50" y1="498.40" x2="836.90" y2="498.40" stroke="#231F20" stroke-width="2.5"/>
<line x1="843.70" y1="498.50" x2="856.30" y2="498.50" stroke="#231F20" stroke-width="2.1"/><line x1="850.00" y1="492.00" x2="850.00" y2="505.10" stroke="#231F20" stroke-width="2.1"/>
<line x1="863.60" y1="498.40" x2="871.00" y2="498.40" stroke="#231F20" stroke-width="2.5"/>
<line x1="829.50" y1="524.90" x2="836.90" y2="524.90" stroke="#231F20" stroke-width="2.5"/>
<line x1="846.30" y1="524.90" x2="853.70" y2="524.90" stroke="#231F20" stroke-width="2.5"/>
<line x1="861.00" y1="525.00" x2="873.60" y2="525.00" stroke="#231F20" stroke-width="2.1"/><line x1="867.30" y1="518.50" x2="867.30" y2="531.60" stroke="#231F20" stroke-width="2.1"/>
<text transform="translate(847.60,78.60) rotate(-45)" font-size="24">p=0.337</text>
<text transform="translate(851.70,567.50) rotate(-45)" font-size="24" text-anchor="end" letter-spacing="-0.62">tinnitus</text>
<line x1="894.20" y1="89.05" x2="936.70" y2="89.05" stroke="#131d1b" stroke-width="1.55"/>
<line x1="894.20" y1="542.2" x2="936.70" y2="542.2" stroke="#131d1b" stroke-width="1.55"/>
<line x1="894.50" y1="498.40" x2="901.90" y2="498.40" stroke="#231F20" stroke-width="2.5"/>
<line x1="908.70" y1="498.50" x2="921.30" y2="498.50" stroke="#231F20" stroke-width="2.1"/><line x1="915.00" y1="492.00" x2="915.00" y2="505.10" stroke="#231F20" stroke-width="2.1"/>
<line x1="928.60" y1="498.40" x2="936.00" y2="498.40" stroke="#231F20" stroke-width="2.5"/>
<line x1="894.50" y1="524.90" x2="901.90" y2="524.90" stroke="#231F20" stroke-width="2.5"/>
<line x1="911.30" y1="524.90" x2="918.70" y2="524.90" stroke="#231F20" stroke-width="2.5"/>
<line x1="926.00" y1="525.00" x2="938.60" y2="525.00" stroke="#231F20" stroke-width="2.1"/><line x1="932.30" y1="518.50" x2="932.30" y2="531.60" stroke="#231F20" stroke-width="2.1"/>
<text transform="translate(918.10,78.60) rotate(-45)" font-size="24">p=0.706</text>
<text transform="translate(922.20,567.50) rotate(-45)" font-size="24" text-anchor="end" letter-spacing="-0.62">dyspnea</text>
<line x1="958.30" y1="89.05" x2="1001.00" y2="89.05" stroke="#131d1b" stroke-width="1.55"/>
<line x1="958.30" y1="542.2" x2="1001.00" y2="542.2" stroke="#131d1b" stroke-width="1.55"/>
<line x1="960.80" y1="498.40" x2="968.20" y2="498.40" stroke="#231F20" stroke-width="2.5"/>
<line x1="975.00" y1="498.50" x2="987.60" y2="498.50" stroke="#231F20" stroke-width="2.1"/><line x1="981.30" y1="492.00" x2="981.30" y2="505.10" stroke="#231F20" stroke-width="2.1"/>
<line x1="994.90" y1="498.40" x2="1002.30" y2="498.40" stroke="#231F20" stroke-width="2.5"/>
<line x1="960.80" y1="524.90" x2="968.20" y2="524.90" stroke="#231F20" stroke-width="2.5"/>
<line x1="977.60" y1="524.90" x2="985.00" y2="524.90" stroke="#231F20" stroke-width="2.5"/>
<line x1="992.30" y1="525.00" x2="1004.90" y2="525.00" stroke="#231F20" stroke-width="2.1"/><line x1="998.60" y1="518.50" x2="998.60" y2="531.60" stroke="#231F20" stroke-width="2.1"/>
<text transform="translate(982.10,78.60) rotate(-45)" font-size="24">p=0.25</text>
<text transform="translate(989.60,567.00) rotate(-45)" font-size="24" text-anchor="end" letter-spacing="-0.62">sore throat</text>
<line x1="1025.10" y1="89.05" x2="1067.90" y2="89.05" stroke="#131d1b" stroke-width="1.55"/>
<line x1="1025.10" y1="542.2" x2="1067.90" y2="542.2" stroke="#131d1b" stroke-width="1.55"/>
<line x1="1025.00" y1="498.40" x2="1032.40" y2="498.40" stroke="#231F20" stroke-width="2.5"/>
<line x1="1039.20" y1="498.50" x2="1051.80" y2="498.50" stroke="#231F20" stroke-width="2.1"/><line x1="1045.50" y1="492.00" x2="1045.50" y2="505.10" stroke="#231F20" stroke-width="2.1"/>
<line x1="1059.10" y1="498.40" x2="1066.50" y2="498.40" stroke="#231F20" stroke-width="2.5"/>
<line x1="1025.00" y1="524.90" x2="1032.40" y2="524.90" stroke="#231F20" stroke-width="2.5"/>
<line x1="1041.80" y1="524.90" x2="1049.20" y2="524.90" stroke="#231F20" stroke-width="2.5"/>
<line x1="1056.50" y1="525.00" x2="1069.10" y2="525.00" stroke="#231F20" stroke-width="2.1"/><line x1="1062.80" y1="518.50" x2="1062.80" y2="531.60" stroke="#231F20" stroke-width="2.1"/>
<text transform="translate(1045.10,78.60) rotate(-45)" font-size="24">p=0.551</text>
<text transform="translate(1054.80,567.00) rotate(-45)" font-size="24" text-anchor="end" letter-spacing="-0.62">cough</text>
<line x1="1091.50" y1="89.05" x2="1134.00" y2="89.05" stroke="#131d1b" stroke-width="1.55"/>
<line x1="1091.50" y1="542.2" x2="1134.00" y2="542.2" stroke="#131d1b" stroke-width="1.55"/>
<line x1="1092.40" y1="498.40" x2="1099.80" y2="498.40" stroke="#231F20" stroke-width="2.5"/>
<line x1="1106.60" y1="498.50" x2="1119.20" y2="498.50" stroke="#231F20" stroke-width="2.1"/><line x1="1112.90" y1="492.00" x2="1112.90" y2="505.10" stroke="#231F20" stroke-width="2.1"/>
<line x1="1126.50" y1="498.40" x2="1133.90" y2="498.40" stroke="#231F20" stroke-width="2.5"/>
<line x1="1092.40" y1="524.90" x2="1099.80" y2="524.90" stroke="#231F20" stroke-width="2.5"/>
<line x1="1109.20" y1="524.90" x2="1116.60" y2="524.90" stroke="#231F20" stroke-width="2.5"/>
<line x1="1123.90" y1="525.00" x2="1136.50" y2="525.00" stroke="#231F20" stroke-width="2.1"/><line x1="1130.20" y1="518.50" x2="1130.20" y2="531.60" stroke="#231F20" stroke-width="2.1"/>
<text transform="translate(1108.40,78.60) rotate(-45)" font-size="24">p=0.92</text>
<text transform="translate(1115.50,567.50) rotate(-45)" font-size="24" text-anchor="end" letter-spacing="-0.62">angina</text>
<line x1="1159.00" y1="89.05" x2="1201.30" y2="89.05" stroke="#131d1b" stroke-width="1.55"/>
<line x1="1159.00" y1="542.2" x2="1201.30" y2="542.2" stroke="#131d1b" stroke-width="1.55"/>
<line x1="1159.20" y1="498.40" x2="1166.60" y2="498.40" stroke="#231F20" stroke-width="2.5"/>
<line x1="1173.40" y1="498.50" x2="1186.00" y2="498.50" stroke="#231F20" stroke-width="2.1"/><line x1="1179.70" y1="492.00" x2="1179.70" y2="505.10" stroke="#231F20" stroke-width="2.1"/>
<line x1="1193.30" y1="498.40" x2="1200.70" y2="498.40" stroke="#231F20" stroke-width="2.5"/>
<line x1="1159.20" y1="524.90" x2="1166.60" y2="524.90" stroke="#231F20" stroke-width="2.5"/>
<line x1="1176.00" y1="524.90" x2="1183.40" y2="524.90" stroke="#231F20" stroke-width="2.5"/>
<line x1="1190.70" y1="525.00" x2="1203.30" y2="525.00" stroke="#231F20" stroke-width="2.1"/><line x1="1197.00" y1="518.50" x2="1197.00" y2="531.60" stroke="#231F20" stroke-width="2.1"/>
<text transform="translate(1178.10,78.60) rotate(-45)" font-size="24">p=0.895</text>
<text transform="translate(1184.50,568.00) rotate(-45)" font-size="24" text-anchor="end" letter-spacing="-0.62">heart complaints</text>
<line x1="1225.90" y1="89.05" x2="1268.20" y2="89.05" stroke="#131d1b" stroke-width="1.55"/>
<line x1="1225.90" y1="542.2" x2="1268.20" y2="542.2" stroke="#131d1b" stroke-width="1.55"/>
<line x1="1225.10" y1="498.40" x2="1232.50" y2="498.40" stroke="#231F20" stroke-width="2.5"/>
<line x1="1239.30" y1="498.50" x2="1251.90" y2="498.50" stroke="#231F20" stroke-width="2.1"/><line x1="1245.60" y1="492.00" x2="1245.60" y2="505.10" stroke="#231F20" stroke-width="2.1"/>
<line x1="1259.20" y1="498.40" x2="1266.60" y2="498.40" stroke="#231F20" stroke-width="2.5"/>
<line x1="1225.10" y1="524.90" x2="1232.50" y2="524.90" stroke="#231F20" stroke-width="2.5"/>
<line x1="1241.90" y1="524.90" x2="1249.30" y2="524.90" stroke="#231F20" stroke-width="2.5"/>
<line x1="1256.60" y1="525.00" x2="1269.20" y2="525.00" stroke="#231F20" stroke-width="2.1"/><line x1="1262.90" y1="518.50" x2="1262.90" y2="531.60" stroke="#231F20" stroke-width="2.1"/>
<text transform="translate(1240.10,78.60) rotate(-45)" font-size="24">p=0.392</text>
<text transform="translate(1250.90,568.00) rotate(-45)" font-size="24" text-anchor="end" letter-spacing="-0.62">dizziness</text>
<line x1="1292.20" y1="89.05" x2="1334.60" y2="89.05" stroke="#131d1b" stroke-width="1.55"/>
<line x1="1292.20" y1="542.2" x2="1334.60" y2="542.2" stroke="#131d1b" stroke-width="1.55"/>
<line x1="1290.00" y1="498.40" x2="1297.40" y2="498.40" stroke="#231F20" stroke-width="2.5"/>
<line x1="1304.20" y1="498.50" x2="1316.80" y2="498.50" stroke="#231F20" stroke-width="2.1"/><line x1="1310.50" y1="492.00" x2="1310.50" y2="505.10" stroke="#231F20" stroke-width="2.1"/>
<line x1="1324.10" y1="498.40" x2="1331.50" y2="498.40" stroke="#231F20" stroke-width="2.5"/>
<line x1="1290.00" y1="524.90" x2="1297.40" y2="524.90" stroke="#231F20" stroke-width="2.5"/>
<line x1="1306.80" y1="524.90" x2="1314.20" y2="524.90" stroke="#231F20" stroke-width="2.5"/>
<line x1="1321.50" y1="525.00" x2="1334.10" y2="525.00" stroke="#231F20" stroke-width="2.1"/><line x1="1327.80" y1="518.50" x2="1327.80" y2="531.60" stroke="#231F20" stroke-width="2.1"/>
<text transform="translate(1316.30,77.80) rotate(-45)" font-size="24">*p=0.013</text>
<text transform="translate(1318.70,567.50) rotate(-45)" font-size="24" text-anchor="end" letter-spacing="-0.62">abdominal pain</text>
<line x1="1358.80" y1="89.05" x2="1400.80" y2="89.05" stroke="#131d1b" stroke-width="1.55"/>
<line x1="1358.80" y1="542.2" x2="1400.80" y2="542.2" stroke="#131d1b" stroke-width="1.55"/>
<line x1="1356.70" y1="498.40" x2="1364.10" y2="498.40" stroke="#231F20" stroke-width="2.5"/>
<line x1="1370.90" y1="498.50" x2="1383.50" y2="498.50" stroke="#231F20" stroke-width="2.1"/><line x1="1377.20" y1="492.00" x2="1377.20" y2="505.10" stroke="#231F20" stroke-width="2.1"/>
<line x1="1390.80" y1="498.40" x2="1398.20" y2="498.40" stroke="#231F20" stroke-width="2.5"/>
<line x1="1356.70" y1="524.90" x2="1364.10" y2="524.90" stroke="#231F20" stroke-width="2.5"/>
<line x1="1373.50" y1="524.90" x2="1380.90" y2="524.90" stroke="#231F20" stroke-width="2.5"/>
<line x1="1388.20" y1="525.00" x2="1400.80" y2="525.00" stroke="#231F20" stroke-width="2.1"/><line x1="1394.50" y1="518.50" x2="1394.50" y2="531.60" stroke="#231F20" stroke-width="2.1"/>
<text transform="translate(1376.80,77.30) rotate(-45)" font-size="24">*p=0.015</text>
<text transform="translate(1377.30,568.00) rotate(-45)" font-size="24" text-anchor="end" letter-spacing="-0.62"><tspan x="0.75" y="0">gastrointestinal</tspan><tspan x="0.75" y="24.00">complaints</tspan></text>
<line x1="1425.00" y1="89.05" x2="1467.40" y2="89.05" stroke="#131d1b" stroke-width="1.55"/>
<line x1="1425.00" y1="542.2" x2="1467.40" y2="542.2" stroke="#131d1b" stroke-width="1.55"/>
<line x1="1421.70" y1="498.40" x2="1429.10" y2="498.40" stroke="#231F20" stroke-width="2.5"/>
<line x1="1435.90" y1="498.50" x2="1448.50" y2="498.50" stroke="#231F20" stroke-width="2.1"/><line x1="1442.20" y1="492.00" x2="1442.20" y2="505.10" stroke="#231F20" stroke-width="2.1"/>
<line x1="1455.80" y1="498.40" x2="1463.20" y2="498.40" stroke="#231F20" stroke-width="2.5"/>
<line x1="1421.70" y1="524.90" x2="1429.10" y2="524.90" stroke="#231F20" stroke-width="2.5"/>
<line x1="1438.50" y1="524.90" x2="1445.90" y2="524.90" stroke="#231F20" stroke-width="2.5"/>
<line x1="1453.20" y1="525.00" x2="1465.80" y2="525.00" stroke="#231F20" stroke-width="2.1"/><line x1="1459.50" y1="518.50" x2="1459.50" y2="531.60" stroke="#231F20" stroke-width="2.1"/>
<text transform="translate(1441.20,78.60) rotate(-45)" font-size="24">p=0.665</text>
<text transform="translate(1452.70,567.70) rotate(-45)" font-size="24" text-anchor="end" letter-spacing="-0.62">nausea</text>
<rect x="771.5" y="677.9" width="19.5" height="13.4" fill="#7B459B" stroke="#111" stroke-width="1"/>
<rect x="771.5" y="705.9" width="19.5" height="13.4" fill="#D3D3D3" stroke="#111" stroke-width="1"/>
<text x="803.1" y="689.5" font-size="24">yes</text>
<text x="803.1" y="720.0" font-size="24">no</text>
</svg></body></html>
